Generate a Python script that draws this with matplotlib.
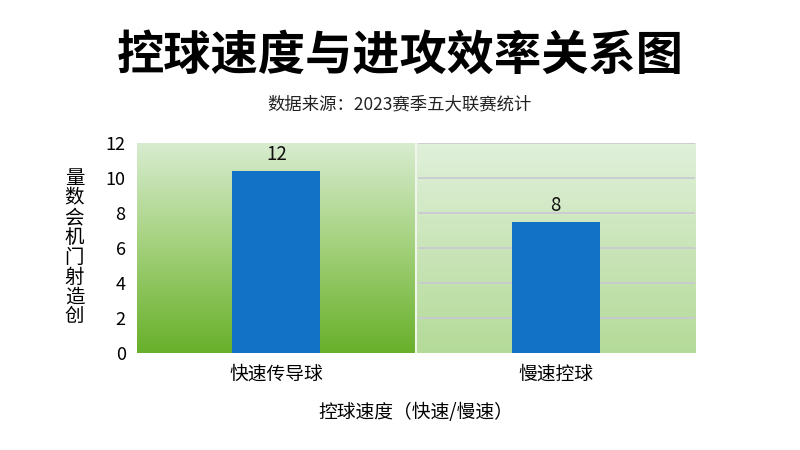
import numpy as np
import matplotlib.pyplot as plt
from matplotlib.colors import LinearSegmentedColormap

plt.rcParams['font.family'] = ['Noto Sans CJK SC', 'DejaVu Sans']

# data
categories = ['快速传导球', '慢速控球']
bar_heights = [10.4, 7.5]
bar_labels = ['12', '8']
yticks = [0, 2, 4, 6, 8, 10, 12]

fig = plt.figure(figsize=(8, 4.5), dpi=100)
fig.patch.set_facecolor('white')
ax = fig.add_axes([0.171, 0.216, 0.698, 0.466])

x = np.arange(len(categories))
ax.set_xlim(-0.5, 1.5)
ax.set_ylim(0, 12)

# gradient backgrounds
grad = np.linspace(0, 1, 256).reshape(-1, 1)
left_cm = LinearSegmentedColormap.from_list('l', ['#68b02a', '#a2d07a', '#d8ecd0'])
right_cm = LinearSegmentedColormap.from_list('r', ['#b4da98', '#e0f0da'])
ax.imshow(grad, extent=[-0.5, 0.5, 0, 12], origin='lower', cmap=left_cm,
          aspect='auto', zorder=0)
ax.imshow(grad, extent=[0.5, 1.5, 0, 12], origin='lower', cmap=right_cm,
          aspect='auto', zorder=0)

# grid only on right panel
for y in yticks[1:]:
    ax.plot([0.51, 1.5], [y, y], color='#c8c8d2', lw=1.2, zorder=1)
ax.axvline(0.5, color='#eef6ea', lw=1.5, zorder=1)

bars = ax.bar(x, bar_heights, width=0.315, color='#1272c6', zorder=2)
for b, lab in zip(bars, bar_labels):
    ax.text(b.get_x() + b.get_width() / 2, b.get_height() + 0.35, lab,
            ha='center', va='bottom', fontsize=13.5, color='#111111')

for s in ax.spines.values():
    s.set_visible(False)
ax.set_xticks(x)
ax.set_xticklabels(categories, fontsize=13.5)
ax.set_yticks(yticks)
ax.set_yticklabels([str(t) for t in yticks], fontsize=13)
ax.tick_params(length=0, pad=8)
ax.set_xlabel('控球速度（快速/慢速）', fontsize=13.5, labelpad=12)

fig.text(0.093, 0.45, '量\n数\n会\n机\n门\n射\n造\n创', fontsize=14,
         ha='center', va='center', linespacing=0.92)

fig.text(0.5, 0.877, '控球速度与进攻效率关系图', fontsize=34,
         fontweight='black', ha='center', va='center')
fig.text(0.5, 0.768, '数据来源：2023赛季五大联赛统计', fontsize=12.5,
         ha='center', va='center', color='#222222')

fig.savefig('out.png', dpi=100, facecolor='white')
